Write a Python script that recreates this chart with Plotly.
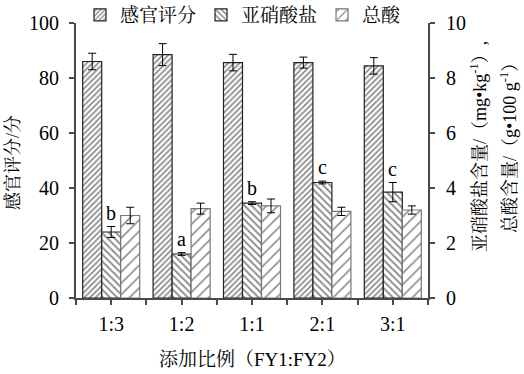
import plotly.graph_objects as go

categories = ["1:3", "1:2", "1:1", "2:1", "3:1"]
sensory = [86.0, 88.5, 85.6, 85.6, 84.4]
sensory_err = [3.0, 4.0, 3.0, 2.0, 3.0]
nitrite = [2.4, 1.6, 3.45, 4.2, 3.85]
nitrite_err = [0.2, 0.05, 0.05, 0.05, 0.35]
acid = [3.0, 3.25, 3.35, 3.15, 3.2]
acid_err = [0.3, 0.2, 0.25, 0.15, 0.15]
letters = ["b", "a", "b", "c", "c"]
names = ["感官评分", "亚硝酸盐", "总酸"]

xs = list(range(len(categories)))
FONT = "Liberation Serif, Noto Serif CJK SC, Noto Sans CJK SC, serif"
AX = "#4a4a4a"

fig = go.Figure()

def err(v):
    return dict(type="data", array=v, color="black", thickness=1, width=4, visible=True)

fig.add_trace(go.Bar(
    x=xs, y=sensory, name=names[0], error_y=err(sensory_err), offsetgroup="1",
    marker=dict(color="white", line=dict(color="#222222", width=1.2),
                pattern=dict(shape="/", size=4, solidity=0.45, fgcolor="#1a1a1a", bgcolor="white")),
    yaxis="y"))
fig.add_trace(go.Bar(
    x=xs, y=nitrite, name=names[1], error_y=err(nitrite_err), offsetgroup="2",
    marker=dict(color="white", line=dict(color="#222222", width=1.2),
                pattern=dict(shape="\\", size=5, solidity=0.38, fgcolor="#1a1a1a", bgcolor="white")),
    yaxis="y2"))
fig.add_trace(go.Bar(
    x=xs, y=acid, name=names[2], error_y=err(acid_err), offsetgroup="3",
    marker=dict(color="white", line=dict(color="#777777", width=1.2),
                pattern=dict(shape="/", size=8, solidity=0.2, fgcolor="#1a1a1a", bgcolor="white")),
    yaxis="y2"))

for i, (v, e, t) in enumerate(zip(nitrite, nitrite_err, letters)):
    fig.add_annotation(x=xs[i], y=v + e, xref="x", yref="y2", text=t, showarrow=False,
                       xanchor="center", yanchor="bottom", yshift=1,
                       font=dict(size=20, color="black", family=FONT))

W, H = 524, 374
l, r, t, b = 76, 96, 23, 76
pw, ph = W - l - r, H - t - b
def px(xp): return (xp - l) / pw
def py(yp): return (H - b - yp) / ph

fig.update_layout(
    width=W, height=H,
    margin=dict(l=l, r=r, t=t, b=b, autoexpand=False),
    paper_bgcolor="white", plot_bgcolor="white",
    barmode="group", bargap=0.19, bargroupgap=0,
    font=dict(family=FONT, size=20, color="black"),
    showlegend=True,
    legend=dict(orientation="h", x=80 / W, y=1 - 15 / H, xref="container", yref="container",
                xanchor="left", yanchor="middle",
                font=dict(size=19), bgcolor="rgba(0,0,0,0)", itemwidth=30,
                tracegroupgap=0),
    xaxis=dict(range=[-0.5, len(categories) - 0.5], tickvals=xs, ticktext=categories,
               showline=True, linecolor=AX, linewidth=2, ticks="outside", ticklen=5,
               tickcolor=AX, tickwidth=1.5, showgrid=False, zeroline=False, automargin=False,
               ticklabelstandoff=2,
               minor=dict(tickvals=[i + 0.5 for i in [-1] + xs], ticks="outside", ticklen=5,
                          tickcolor=AX, tickwidth=1.5, showgrid=False),
               tickfont=dict(size=20)),
    yaxis=dict(range=[0, 100], dtick=20, showline=True, linecolor=AX, linewidth=2,
               ticks="outside", ticklen=5, tickcolor=AX, tickwidth=1.5, automargin=False,
               ticklabelstandoff=6,
               showgrid=False, zeroline=False, tickfont=dict(size=20)),
    yaxis2=dict(range=[0, 10], dtick=2, overlaying="y", side="right", showline=True,
                linecolor=AX, linewidth=2, ticks="outside", ticklen=5, automargin=False,
                ticklabelstandoff=7,
                tickcolor=AX, tickwidth=1.5, showgrid=False, zeroline=False,
                tickfont=dict(size=20)),
)

def title(xp, yp, text, size, angle=0):
    fig.add_annotation(x=px(xp), y=py(yp), xref="paper", yref="paper", text=text,
                       showarrow=False, textangle=angle, xanchor="center", yanchor="middle",
                       font=dict(size=size, color="black", family=FONT))

title(13, 163, "感官评分/分", 18, -90)
title(478, 147, "亚硝酸盐含量/（mg•kg<sup>-1</sup>）,", 18, -90)
title(508, 144, "总酸含量/（g•100 g<sup>-1</sup>）", 18, -90)
title(252, 359, "添加比例（FY1:FY2）", 19)

fig.write_html("out.html", config={"displayModeBar": False},
               post_script="document.body.style.margin='0';")
